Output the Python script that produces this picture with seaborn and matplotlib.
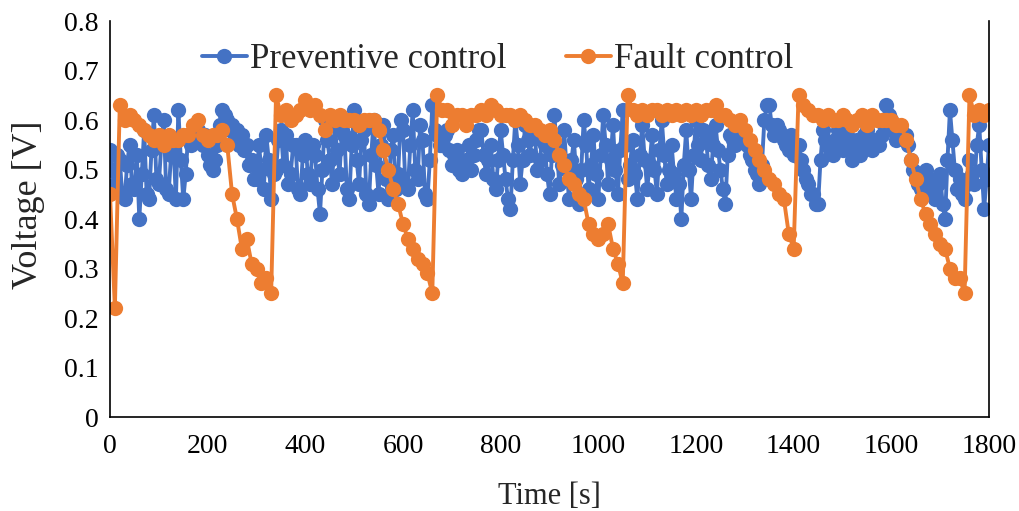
import matplotlib
matplotlib.use("Agg")
import matplotlib.pyplot as plt
from matplotlib.lines import Line2D
from matplotlib.ticker import FuncFormatter, MultipleLocator
import pandas as pd
import seaborn as sns

# sample times [s]
time_preventive_s = list(range(0, 1801, 5))
time_fault_s = list(range(0, 1801, 10))

# Preventive control voltage [V], every 5 s
preventive_v = [
    0.54, 0.50, 0.47, 0.53, 0.52, 0.45, 0.44, 0.51, 0.55, 0.47, 0.46, 0.53, 0.40, 0.49, 0.58, 0.45, 0.44, 0.54, 0.61, 0.48,
    0.47, 0.55, 0.60, 0.46, 0.45, 0.53, 0.55, 0.44, 0.62, 0.52, 0.44, 0.49, 0.57, 0.55, 0.56, 0.58, 0.58, 0.56, 0.55, 0.57,
    0.53, 0.51, 0.50, 0.52, 0.55, 0.59, 0.62, 0.61, 0.60, 0.58, 0.59, 0.57, 0.58, 0.55, 0.57, 0.54, 0.55, 0.51, 0.52, 0.48,
    0.48, 0.55, 0.50, 0.46, 0.57, 0.52, 0.44, 0.49, 0.50, 0.56, 0.58, 0.51, 0.57, 0.47, 0.49, 0.55, 0.55, 0.46, 0.45, 0.53,
    0.56, 0.49, 0.47, 0.55, 0.53, 0.46, 0.41, 0.50, 0.60, 0.56, 0.52, 0.47, 0.59, 0.54, 0.49, 0.58, 0.57, 0.46, 0.44, 0.55,
    0.62, 0.52, 0.47, 0.56, 0.58, 0.45, 0.43, 0.53, 0.60, 0.51, 0.45, 0.55, 0.59, 0.48, 0.44, 0.54, 0.57, 0.46, 0.49, 0.60,
    0.58, 0.47, 0.46, 0.55, 0.62, 0.50, 0.48, 0.59, 0.56, 0.45, 0.44, 0.52, 0.63, 0.58, 0.57, 0.55, 0.55, 0.57, 0.58, 0.54,
    0.51, 0.53, 0.54, 0.50, 0.49, 0.51, 0.52, 0.55, 0.50, 0.53, 0.56, 0.58, 0.58, 0.53, 0.49, 0.52, 0.55, 0.48, 0.46, 0.52,
    0.58, 0.53, 0.48, 0.44, 0.42, 0.52, 0.60, 0.55, 0.47, 0.52, 0.59, 0.56, 0.53, 0.58, 0.57, 0.50, 0.52, 0.56, 0.55, 0.49,
    0.45, 0.53, 0.61, 0.54, 0.47, 0.51, 0.58, 0.50, 0.44, 0.52, 0.56, 0.48, 0.43, 0.50, 0.60, 0.55, 0.46, 0.51, 0.57, 0.49,
    0.44, 0.53, 0.61, 0.55, 0.47, 0.52, 0.59, 0.50, 0.45, 0.54, 0.62, 0.55, 0.48, 0.51, 0.56, 0.49, 0.44, 0.53, 0.59, 0.52,
    0.46, 0.51, 0.57, 0.50, 0.45, 0.54, 0.60, 0.53, 0.47, 0.50, 0.55, 0.49, 0.44, 0.47, 0.40, 0.51, 0.58, 0.50, 0.44, 0.53,
    0.60, 0.55, 0.52, 0.58, 0.57, 0.51, 0.48, 0.55, 0.59, 0.54, 0.50, 0.46, 0.43, 0.53, 0.57, 0.56, 0.55, 0.57, 0.58, 0.56,
    0.56, 0.55, 0.53, 0.52, 0.50, 0.49, 0.47, 0.51, 0.60, 0.63, 0.63, 0.59, 0.57, 0.59, 0.58, 0.57, 0.56, 0.55, 0.54, 0.57,
    0.53, 0.55, 0.55, 0.52, 0.50, 0.48, 0.47, 0.45, 0.45, 0.43, 0.43, 0.52, 0.58, 0.56, 0.55, 0.54, 0.53, 0.56, 0.58, 0.55,
    0.54, 0.56, 0.57, 0.55, 0.52, 0.54, 0.56, 0.53, 0.55, 0.57, 0.58, 0.55, 0.54, 0.56, 0.56, 0.55, 0.57, 0.59, 0.63, 0.61,
    0.60, 0.58, 0.56, 0.58, 0.58, 0.57, 0.57, 0.55, 0.52, 0.50, 0.49, 0.47, 0.46, 0.48, 0.50, 0.48, 0.47, 0.45, 0.44, 0.47,
    0.49, 0.43, 0.40, 0.52, 0.62, 0.56, 0.50, 0.46, 0.48, 0.45, 0.44, 0.47, 0.52, 0.49, 0.47, 0.55, 0.59, 0.50, 0.42, 0.48,
    0.55,
]

# Fault control voltage [V], every 10 s
fault_v = [
    0.45, 0.22, 0.63, 0.60, 0.61, 0.60, 0.59, 0.58, 0.57, 0.56,
    0.57, 0.55, 0.57, 0.56, 0.56, 0.57, 0.57, 0.59, 0.60, 0.57,
    0.56, 0.57, 0.57, 0.58, 0.55, 0.45, 0.40, 0.34, 0.36, 0.31,
    0.30, 0.27, 0.28, 0.25, 0.65, 0.61, 0.62, 0.60, 0.61, 0.62,
    0.64, 0.62, 0.63, 0.61, 0.58, 0.61, 0.60, 0.61, 0.60, 0.60,
    0.60, 0.59, 0.60, 0.60, 0.60, 0.58, 0.54, 0.50, 0.46, 0.43,
    0.39, 0.36, 0.34, 0.32, 0.31, 0.29, 0.25, 0.65, 0.62, 0.62,
    0.59, 0.61, 0.61, 0.59, 0.61, 0.61, 0.62, 0.61, 0.63, 0.62,
    0.61, 0.61, 0.61, 0.60, 0.61, 0.60, 0.59, 0.59, 0.58, 0.57,
    0.58, 0.56, 0.53, 0.51, 0.48, 0.47, 0.45, 0.44, 0.39, 0.37,
    0.36, 0.37, 0.39, 0.34, 0.31, 0.27, 0.65, 0.62, 0.61, 0.62,
    0.61, 0.62, 0.62, 0.61, 0.62, 0.61, 0.62, 0.61, 0.62, 0.61,
    0.62, 0.61, 0.62, 0.62, 0.63, 0.61, 0.61, 0.60, 0.59, 0.60,
    0.58, 0.56, 0.54, 0.52, 0.50, 0.48, 0.47, 0.45, 0.44, 0.37,
    0.34, 0.65, 0.63, 0.62, 0.61, 0.61, 0.60, 0.61, 0.60, 0.60,
    0.61, 0.60, 0.59, 0.60, 0.61, 0.59, 0.61, 0.60, 0.60, 0.60,
    0.60, 0.59, 0.59, 0.56, 0.52, 0.48, 0.44, 0.41, 0.39, 0.37,
    0.35, 0.34, 0.30, 0.28, 0.28, 0.25, 0.65, 0.61, 0.62, 0.61,
    0.62,
]

series_names = ["Preventive control", "Fault control"]
colors = {"Preventive control": "#4472C4", "Fault control": "#ED7D31"}

df = pd.concat([
    pd.DataFrame({"time": time_preventive_s, "voltage": preventive_v, "series": series_names[0]}),
    pd.DataFrame({"time": time_fault_s, "voltage": fault_v, "series": series_names[1]}),
])

sns.set_style("white")
plt.rcParams["font.family"] = ["Liberation Serif", "DejaVu Serif"]

fig = plt.figure(figsize=(10.2, 5.11), dpi=100)
ax = fig.add_axes([110 / 1020, 1 - 417 / 511, 879 / 1020, 396 / 511])

mk = 11
lw = 2.8
sns.lineplot(data=df, x="time", y="voltage", hue="series", hue_order=series_names,
             palette=colors, estimator=None, sort=False, marker="o", markersize=mk,
             markeredgewidth=0, linewidth=lw, legend=False, ax=ax)

ax.set_xlim(0, 1800)
ax.set_ylim(0, 0.8)
ax.xaxis.set_major_locator(MultipleLocator(200))
ax.yaxis.set_major_locator(MultipleLocator(0.1))
ax.yaxis.set_major_formatter(FuncFormatter(lambda v, p: "0" if abs(v) < 1e-9 else f"{v:.1f}"))
ax.tick_params(axis="both", direction="in", length=6, width=1, labelsize=20, colors="black")
ax.tick_params(axis="y", pad=8)
ax.tick_params(axis="x", pad=12)

for side in ["left", "bottom", "right"]:
    ax.spines[side].set_visible(True)
    ax.spines[side].set_color("black")
    ax.spines[side].set_linewidth(1.2)
ax.spines["top"].set_visible(False)

ax.set_xlabel("Time [s]", fontsize=22, labelpad=17)
ax.set_ylabel("Voltage [V]", fontsize=26)
ax.yaxis.set_label_coords(-0.074, 0.535)

handles = [Line2D([0], [0], color=colors[n], marker="o", markersize=mk,
                  markeredgewidth=0, linewidth=lw) for n in series_names]
ax.legend(handles, series_names, loc="center", bbox_to_anchor=(0.441, 0.903), ncol=2,
          frameon=False, fontsize=25, handlelength=1.3, handletextpad=0.1,
          columnspacing=1.7)

fig.savefig("out.png", dpi=100)
